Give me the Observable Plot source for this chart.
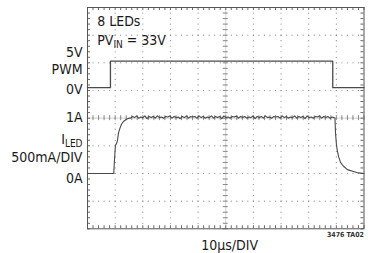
<!DOCTYPE html>
<html>
<head>
<meta charset="utf-8">
<script src="https://cdn.jsdelivr.net/npm/d3@7"></script>
<script src="https://cdn.jsdelivr.net/npm/@observablehq/plot@0.6"></script>
<style>
  html, body { margin: 0; padding: 0; background: #fff; }
  svg text { font-stretch: condensed; }
</style>
</head>
<body>
<div id="chart"></div>
<script>
// ---- data (time in µs, 10 µs/DIV; PWM in volts; LED current in amps) ----
const pwmTime  = [0, 8.3, 8.3, 88.7, 88.7, 100];
const pwmVolts = [0.5, 0.5, 5.3, 5.3, 0.5, 0.5];

const riseTime = [0, 9.5, 9.75, 10.1, 10.5, 10.85, 11.2, 11.75, 12.3, 13.0, 14.1, 15.0];
const riseAmps = [0, 0, 0.24, 0.51, 0.54, 0.60, 0.73, 0.82, 0.89, 0.94, 0.98, 1.0];

const rippleStart = 15.5, rippleEnd = 89.2;
const rippleAmps = [1.00,1.03,1.01,1.04,1.00,1.02,1.01,1.04,0.99,1.03,1.01,1.03,1.00,1.04,1.01,1.02,1.00,1.03,1.02,1.04,
  1.00,1.03,1.01,1.02,0.99,1.03,1.01,1.04,1.00,1.03,1.02,1.03,1.00,1.04,1.01,1.03,1.00,1.02,1.01,1.04,
  1.00,1.03,1.01,1.03,0.99,1.04,1.01,1.02,1.00,1.03,1.02,1.04,1.00,1.03,1.01,1.03,1.00,1.02,1.01,1.04,
  0.99,1.03,1.01,1.03,1.00,1.04,1.01,1.02,1.00,1.03,1.02,1.03,1.00,1.04,1.01,1.03,1.00,1.02,1.01,1.04,
  1.00,1.03,1.01,1.03,0.99,1.04,1.01,1.02,1.00,1.03,1.02,1.04,1.00,1.03,1.01,1.03,1.00,1.02,1.01];

const fallTime = [89.5, 89.7, 90.05, 90.4, 90.8, 91.5, 92.6, 94.0, 95.9, 98.0, 100];
const fallAmps = [1.0, 0.73, 0.51, 0.40, 0.31, 0.20, 0.13, 0.07, 0.04, 0.01, 0.0];

// labels (left side, in divisions from bottom)
const leftLabels = ["5V", "PWM", "0V", "1A", "I|LED", "500mA/DIV", "0A"];
const leftLabelDiv = [6.37, 5.77, 5.05, 4.02, 3.22, 2.57, 1.82];
const noteLabels = ["8 LEDs", "PV|IN = 33V"];
const noteDiv = [7.49, 6.81];
const xAxisLabel = "10µs/DIV";
const figCode = "3476 TA02";

// ---- build ----
const FONT = "'DejaVu Sans Condensed', 'DejaVu Sans', sans-serif";
const pwmDiv = pwmVolts.map(v => 5 + v / 5);           // 5 V/DIV, 0 V at division 5
const ampToDiv = a => 2 + a * 2;                        // 500 mA/DIV, 0 A at division 2
const rippleTime = rippleAmps.map((_, i) => rippleStart + i * (rippleEnd - rippleStart) / (rippleAmps.length - 1));
const curTime = [...riseTime, ...rippleTime, ...fallTime];
const curDiv = [...riseAmps, ...rippleAmps, ...fallAmps].map(ampToDiv);
const current = curTime.map((t, i) => ({t, d: curDiv[i]}));
const pwm = pwmTime.map((t, i) => ({t, d: pwmDiv[i]}));

const minorX = d3.range(0, 100.001, 2);
const minorY = d3.range(0, 8.0001, 0.2);
const gridDots = [];
for (const gx of d3.range(10, 100, 10)) for (const my of minorY.slice(1, -1)) gridDots.push({x: gx, y: my});
for (const gy of d3.range(1, 8, 1)) for (const mx of minorX.slice(1, -1)) gridDots.push({x: mx, y: gy});

const chart = Plot.plot({
  width: 368, height: 253,
  marginLeft: 87, marginRight: 4.5, marginTop: 7, marginBottom: 24.7,
  x: {domain: [0, 100], axis: null},
  y: {domain: [0, 8], axis: null},
  style: {background: "#fff", fontFamily: FONT, overflow: "visible"},
  marks: [
    Plot.dot(gridDots, {x: "x", y: "y", r: 0.6, fill: "#8a8a8a", stroke: null}),
    Plot.ruleY([4], {stroke: "#d0d0d0", strokeWidth: 1}),
    Plot.ruleX([50], {stroke: "#d0d0d0", strokeWidth: 1}),
    Plot.ruleX(minorX, {y1: 4 - 0.09, y2: 4 + 0.09, stroke: "#888"}),
    Plot.ruleY(minorY, {x1: 50 - 0.9, x2: 50 + 0.9, stroke: "#888"}),
    Plot.ruleX(minorX, {y1: 0, y2: 0.11, stroke: "#666"}),
    Plot.ruleX(minorX, {y1: 8 - 0.11, y2: 8, stroke: "#666"}),
    Plot.ruleY(minorY, {x1: 0, x2: 1.1, stroke: "#666"}),
    Plot.ruleY(minorY, {x1: 98.9, x2: 100, stroke: "#666"}),
    Plot.frame({stroke: "#555", strokeWidth: 1}),
    Plot.line(pwm, {x: "t", y: "d", stroke: "#4a4a4a", strokeWidth: 1.3}),
    Plot.line(current, {x: "t", y: "d", stroke: "#4a4a4a", strokeWidth: 1.1}),
    Plot.text(leftLabels, {x: 0, y: (d, i) => leftLabelDiv[i], text: d => d, textAnchor: "end", dx: -5,
      fontSize: 14, fill: "#1a1a1a", fontFamily: FONT}),
    Plot.text(noteLabels, {x: 3.5, y: (d, i) => noteDiv[i], text: d => d, textAnchor: "start",
      fontSize: 14, fill: "#1a1a1a", fontFamily: FONT}),
    Plot.text([xAxisLabel], {x: 51.4, y: -0.62, text: d => d, fontSize: 14, fill: "#1a1a1a", fontFamily: FONT}),
    Plot.text([figCode], {x: 100, y: -0.23, text: d => d, textAnchor: "end", fontSize: 7, fontWeight: "bold",
      fill: "#333", fontFamily: FONT})
  ]
});

// subscripts: "A|B rest" -> A with subscript B, then rest
d3.select(chart).selectAll("text").each(function () {
  const s = this.textContent;
  if (!s.includes("|")) return;
  const [main, restAll] = s.split("|");
  const m = restAll.match(/^(\S+)(.*)$/);
  const sub = m[1], tail = m[2];
  const t = d3.select(this);
  t.text(null);
  t.append("tspan").text(main);
  t.append("tspan").attr("font-size", 10).attr("dy", 3).text(sub);
  if (tail) t.append("tspan").attr("dy", -3).text(tail);
});

document.getElementById("chart").appendChild(chart);
</script>
</body>
</html>
